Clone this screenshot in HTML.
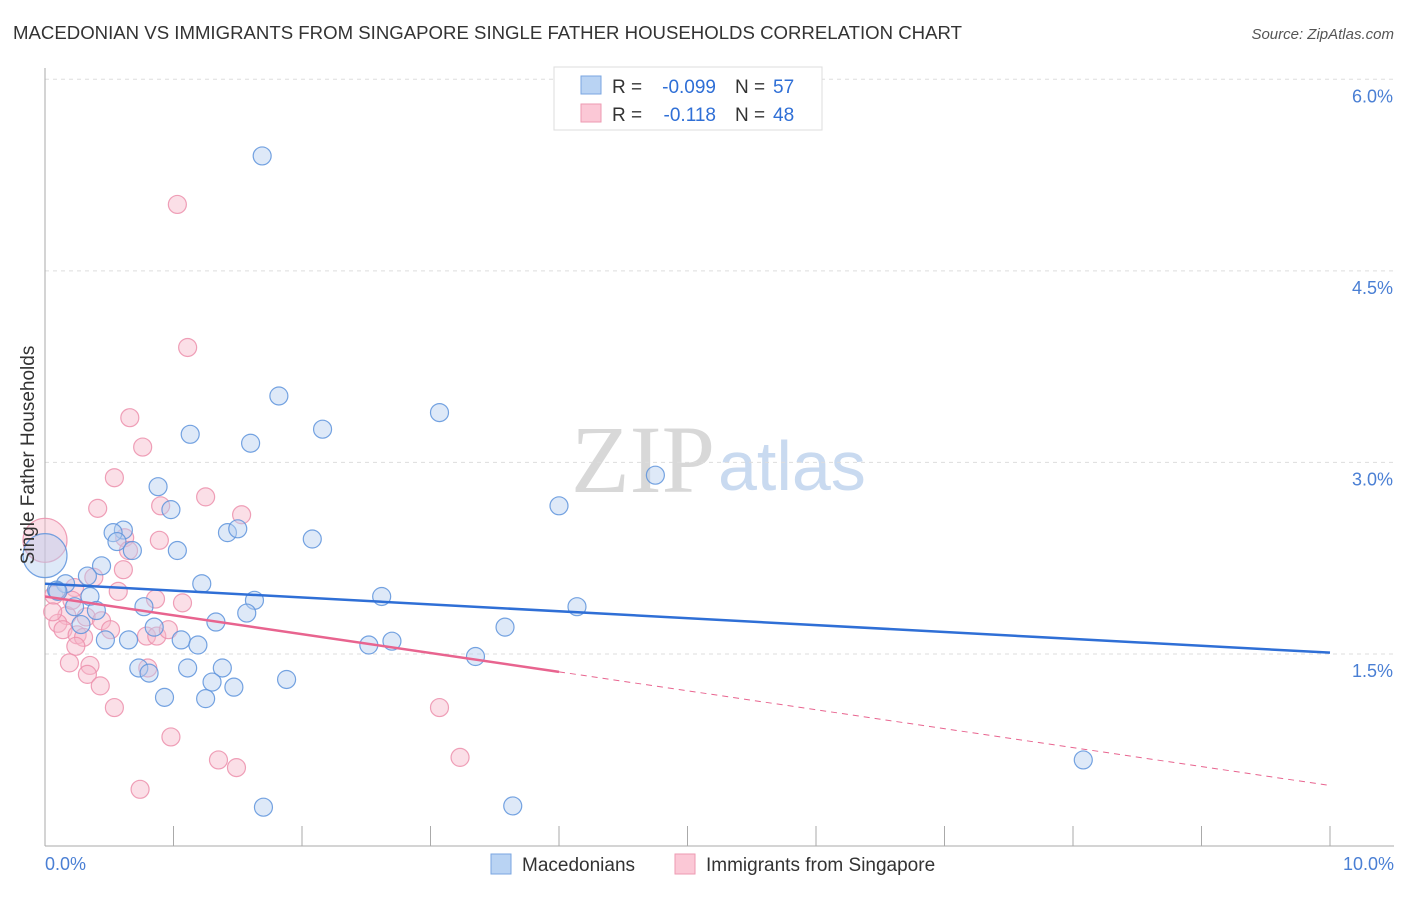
<!DOCTYPE html>
<html><head><meta charset="utf-8"><style>
body{margin:0;background:#fff;font-family:"Liberation Sans",sans-serif}
</style></head><body>
<svg width="1406" height="892" id="svg" xmlns="http://www.w3.org/2000/svg" font-family="Liberation Sans, sans-serif">
<text x="13" y="39" font-size="18" fill="#333" textLength="949" lengthAdjust="spacingAndGlyphs">MACEDONIAN VS IMMIGRANTS FROM SINGAPORE SINGLE FATHER HOUSEHOLDS CORRELATION CHART</text>
<text x="1394" y="39" font-size="15" fill="#555" font-style="italic" text-anchor="end">Source: ZipAtlas.com</text>
<text x="715" y="492" font-size="96" fill="#d8d8d8" font-family="Liberation Serif, serif" text-anchor="end">ZIP</text>
<text x="718" y="490" font-size="70" fill="#c9daf0">atlas</text>
<g id="grid"></g><g id="axes"></g><g id="pts"></g><g id="lines"></g>
<text transform="translate(34,455) rotate(-90)" font-size="19" fill="#333" text-anchor="middle">Single Father Households</text>
<text x="45" y="870" font-size="18" fill="#4a7fd4">0.0%</text>
<text x="1394" y="870" font-size="18" fill="#4a7fd4" text-anchor="end">10.0%</text>
<g>
<rect x="554" y="67" width="268" height="63" fill="#fff" stroke="#ddd"/>
<rect x="581" y="76" width="20" height="18" fill="#b9d3f3" stroke="#7aa6e0"/>
<rect x="581" y="104" width="20" height="18" fill="#fbc8d6" stroke="#ee9ab2"/>
<text x="612" y="93" font-size="19" fill="#333">R =</text>
<text x="716" y="93" font-size="19" fill="#2f6fd6" text-anchor="end">-0.099</text>
<text x="735" y="93" font-size="19" fill="#333">N =</text>
<text x="773" y="93" font-size="19" fill="#2f6fd6">57</text>
<text x="612" y="121" font-size="19" fill="#333">R =</text>
<text x="716" y="121" font-size="19" fill="#2f6fd6" text-anchor="end">-0.118</text>
<text x="735" y="121" font-size="19" fill="#333">N =</text>
<text x="773" y="121" font-size="19" fill="#2f6fd6">48</text>
</g>
<g>
<rect x="491" y="854" width="20" height="20" fill="#b9d3f3" stroke="#7aa6e0"/>
<text x="522" y="871" font-size="19" fill="#333">Macedonians</text>
<rect x="675" y="854" width="20" height="20" fill="#fbc8d6" stroke="#ee9ab2"/>
<text x="706" y="871" font-size="19" fill="#333">Immigrants from Singapore</text>
</g>
</svg>
<script>
const yTicks=[1.5,3.0,4.5,6.0];
const blueX=[1.69,1.82,1.13,1.60,2.16,3.07,4.75,4.00,0.88,0.98,0.61,0.53,0.56,0.68,1.03,1.42,1.50,2.08,0.44,0.33,0.16,0.09,1.22,0.35,2.62,1.63,0.77,0.23,0.40,1.57,4.14,1.33,0.85,0.28,3.58,1.06,0.65,0.47,1.19,2.52,2.70,3.35,0.73,0.81,1.11,1.38,1.30,1.88,1.47,0.93,1.25,8.08,1.70,3.64,0.0,0.10];
const blueY=[5.40,3.52,3.22,3.15,3.26,3.39,2.90,2.66,2.81,2.63,2.47,2.45,2.38,2.31,2.31,2.45,2.48,2.40,2.19,2.11,2.05,2.00,2.05,1.95,1.95,1.92,1.87,1.87,1.84,1.82,1.87,1.75,1.71,1.73,1.71,1.61,1.61,1.61,1.57,1.57,1.60,1.48,1.39,1.35,1.39,1.39,1.28,1.30,1.24,1.16,1.15,0.67,0.30,0.31,2.27,1.99];
const pinkX=[1.03,1.11,0.66,0.76,0.54,0.41,1.25,0.90,1.53,0.89,0.62,0.65,0.61,0.38,0.23,0.0,0.07,0.57,0.86,1.07,0.17,0.32,0.44,0.10,0.14,0.51,0.25,0.30,0.79,0.87,0.96,0.24,0.19,0.35,0.33,0.43,0.80,0.54,3.07,0.98,1.35,1.49,3.23,0.74,0.06,0.21];
const pinkY=[5.02,3.90,3.35,3.12,2.88,2.64,2.73,2.66,2.59,2.39,2.41,2.31,2.16,2.10,2.02,2.39,1.96,1.99,1.93,1.90,1.80,1.79,1.76,1.74,1.69,1.69,1.65,1.63,1.64,1.64,1.69,1.56,1.43,1.41,1.34,1.25,1.39,1.08,1.08,0.85,0.67,0.61,0.69,0.44,1.83,1.92];
const blueBig=[54],pinkBig=[15];
const blueTrend=[2.05,1.51],pinkTrend=[1.95,1.36,0.47],pinkSolidEnd=4.0;
const X=v=>45+v*128.5, Y=v=>845.5-v*127.7;
const NS="http://www.w3.org/2000/svg";
function mk(t,a,p){const e=document.createElementNS(NS,t);for(const k in a)e.setAttribute(k,a[k]);p.appendChild(e);return e;}
const grid=document.getElementById('grid'),axes=document.getElementById('axes');
yTicks.forEach(t=>{
 const l=mk('line',{x1:45,x2:1394,y1:Y(t),y2:Y(t),stroke:'#ddd','stroke-dasharray':'4,4'},grid);
 
 
 const tx=mk('text',{x:1393,y:Y(t)+23,'font-size':18,fill:'#4a7fd4','text-anchor':'end'},grid);
 tx.textContent=t.toFixed(1)+'%';
 
 
});
let a=mk('line',{x1:45,x2:45,y1:68,y2:846,stroke:'#aaa'},axes);


a=mk('line',{x1:45,x2:1394,y1:846,y2:846,stroke:'#aaa'},axes);


for(let i=1;i<=10;i++){const t=mk('line',{x1:X(i),x2:X(i),y1:826,y2:846,stroke:'#aaa'},axes);
 
 }
const pts=document.getElementById('pts');
function dots(xs,ys,big,fill,stroke,name){xs.forEach((x,i)=>{
 const c=mk('circle',{cx:X(x),cy:Y(ys[i]),r:big.includes(i)?22:9,fill:fill,'fill-opacity':0.45,stroke:stroke,'stroke-width':1.2,'stroke-opacity':0.85},pts);
 
 });}
dots(pinkX,pinkY,pinkBig,'#f7b8ca','#ec8fab','singapore-point');
dots(blueX,blueY,blueBig,'#b5cff0','#5d93dc','macedonian-point');
const lines=document.getElementById('lines');
let ln=mk('line',{x1:X(0),y1:Y(blueTrend[0]),x2:X(10),y2:Y(blueTrend[1]),stroke:'#2f6fd6','stroke-width':2.5},lines);


ln=mk('line',{x1:X(0),y1:Y(pinkTrend[0]),x2:X(pinkSolidEnd),y2:Y(pinkTrend[1]),stroke:'#e8648f','stroke-width':2.5},lines);


ln=mk('line',{x1:X(pinkSolidEnd),y1:Y(pinkTrend[1]),x2:X(10),y2:Y(pinkTrend[2]),stroke:'#e8648f','stroke-width':1,'stroke-dasharray':'6,5'},lines);


</script>
</body></html>
